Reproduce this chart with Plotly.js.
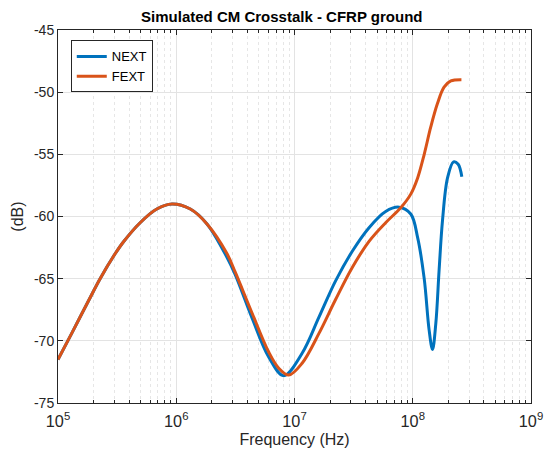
<!DOCTYPE html>
<html>
<head>
<meta charset="utf-8">
<script src="https://cdn.plot.ly/plotly-3.0.1.min.js"></script>
<style>html,body{margin:0;padding:0;background:#fff;}#chart{width:545px;height:456px;}</style>
</head>
<body>
<div id="chart"></div>
<script>
// FEXT (Hz, dB)
const fextFreq = [1.0e5, 1.306e5, 1.807e5, 2.27e5, 3.04e5, 3.57e5, 4.95e5, 6.85e5, 9.2e5, 1.315e6, 1.82e6, 2.69e6, 3.16e6, 4.39e6, 6.05e6, 7.36e6, 8.95e6, 1.16e7, 1.61e7, 2.22e7, 3.08e7, 4.27e7, 5.9e7, 7.91e7, 9.62e7, 1.10e8, 1.25e8, 1.42e8, 1.62e8, 1.84e8, 2.10e8, 2.58e8];
const fextDb   = [-71.5, -69.4, -66.8, -65.0, -63.0, -62.05, -60.5, -59.4, -59.0, -59.4, -60.6, -63.0, -64.5, -67.8, -70.9, -72.2, -72.75, -71.8, -69.4, -66.7, -64.1, -62.0, -60.5, -59.3, -58.2, -56.9, -55.0, -52.8, -50.9, -49.6, -49.1, -49.0];
// NEXT (Hz, dB)
const nextFreq = [1.0e5, 1.306e5, 1.807e5, 2.27e5, 3.04e5, 3.57e5, 4.95e5, 6.85e5, 9.2e5, 1.315e6, 1.82e6, 2.69e6, 3.16e6, 4.39e6, 6.05e6, 8.11e6, 1.16e7, 1.61e7, 2.22e7, 3.08e7, 4.27e7, 5.9e7, 7.66e7, 9.62e7, 1.10e8, 1.25e8, 1.374e8, 1.469e8, 1.567e8, 1.671e8, 1.786e8, 1.968e8, 2.213e8, 2.421e8, 2.60e8];
const nextDb   = [-71.5, -69.4, -66.8, -65.0, -63.0, -62.05, -60.5, -59.4, -59.0, -59.4, -60.6, -63.3, -64.7, -68.2, -71.3, -72.8, -71.0, -68.1, -65.2, -62.8, -60.9, -59.6, -59.25, -59.8, -61.7, -65.0, -69.1, -70.7, -68.6, -64.3, -60.3, -56.9, -55.6, -55.8, -56.8];

const seriesNames = ["NEXT", "FEXT"];
const yTickVals = [-75, -70, -65, -60, -55, -50, -45];
const yTickText = ["-75", "-70", "-65", "-60", "-55", "-50", "-45"];

const font = "Liberation Sans, Arial, Helvetica, sans-serif";
const axisColor = "#262626";

const traces = [
  {x: nextFreq, y: nextDb, name: seriesNames[0], mode: "lines",
   line: {color: "#0072BD", width: 3, shape: "spline", smoothing: 1}},
  {x: fextFreq, y: fextDb, name: seriesNames[1], mode: "lines",
   line: {color: "#D95319", width: 3, shape: "spline", smoothing: 1}}
];

const layout = {
  width: 545, height: 456,
  margin: {l: 58, r: 14, t: 30, b: 53},
  paper_bgcolor: "#fff", plot_bgcolor: "#fff",
  font: {family: font, color: axisColor, size: 13},
  title: {text: "<b>Simulated CM Crosstalk - CFRP ground</b>", font: {family: font, size: 15, color: "#000"},
          x: 0.517, xanchor: "center", y: 0.963, yanchor: "middle"},
  xaxis: {
    type: "log", range: [5, 9], dtick: 1, exponentformat: "power",
    showline: true, mirror: "ticks", linecolor: axisColor, linewidth: 1,
    ticks: "inside", ticklen: 5, tickcolor: axisColor, ticklabelstandoff: 4,
    showgrid: true, gridcolor: "#e3e3e3", gridwidth: 1,
    minor: {showgrid: true, gridcolor: "#e6e6e6", griddash: "dot", dtick: "D1", ticks: "inside", ticklen: 3, tickcolor: axisColor},
    zeroline: false,
    tickfont: {size: 13, family: font, color: axisColor},
    title: {text: "Frequency (Hz)", font: {size: 16, family: font, color: axisColor}, standoff: 4}
  },
  yaxis: {
    range: [-75, -45], tickvals: yTickVals, ticktext: yTickText,
    showline: true, mirror: "ticks", linecolor: axisColor, linewidth: 1,
    ticks: "inside", ticklen: 5, tickcolor: axisColor,
    showgrid: true, gridcolor: "#e3e3e3", gridwidth: 1, zeroline: false,
    tickfont: {size: 14, family: font, color: axisColor},
    title: {text: "(dB)", font: {size: 16, family: font, color: axisColor}, standoff: 6}
  },
  legend: {
    x: 0.027, y: 0.972, xanchor: "left", yanchor: "top",
    bgcolor: "#fff", bordercolor: axisColor, borderwidth: 1,
    font: {size: 13, family: font, color: "#000"},
    tracegroupgap: 0, itemwidth: 30
  },
  showlegend: true
};

Plotly.newPlot("chart", traces, layout, {displayModeBar: false, staticPlot: true});
</script>
</body>
</html>
